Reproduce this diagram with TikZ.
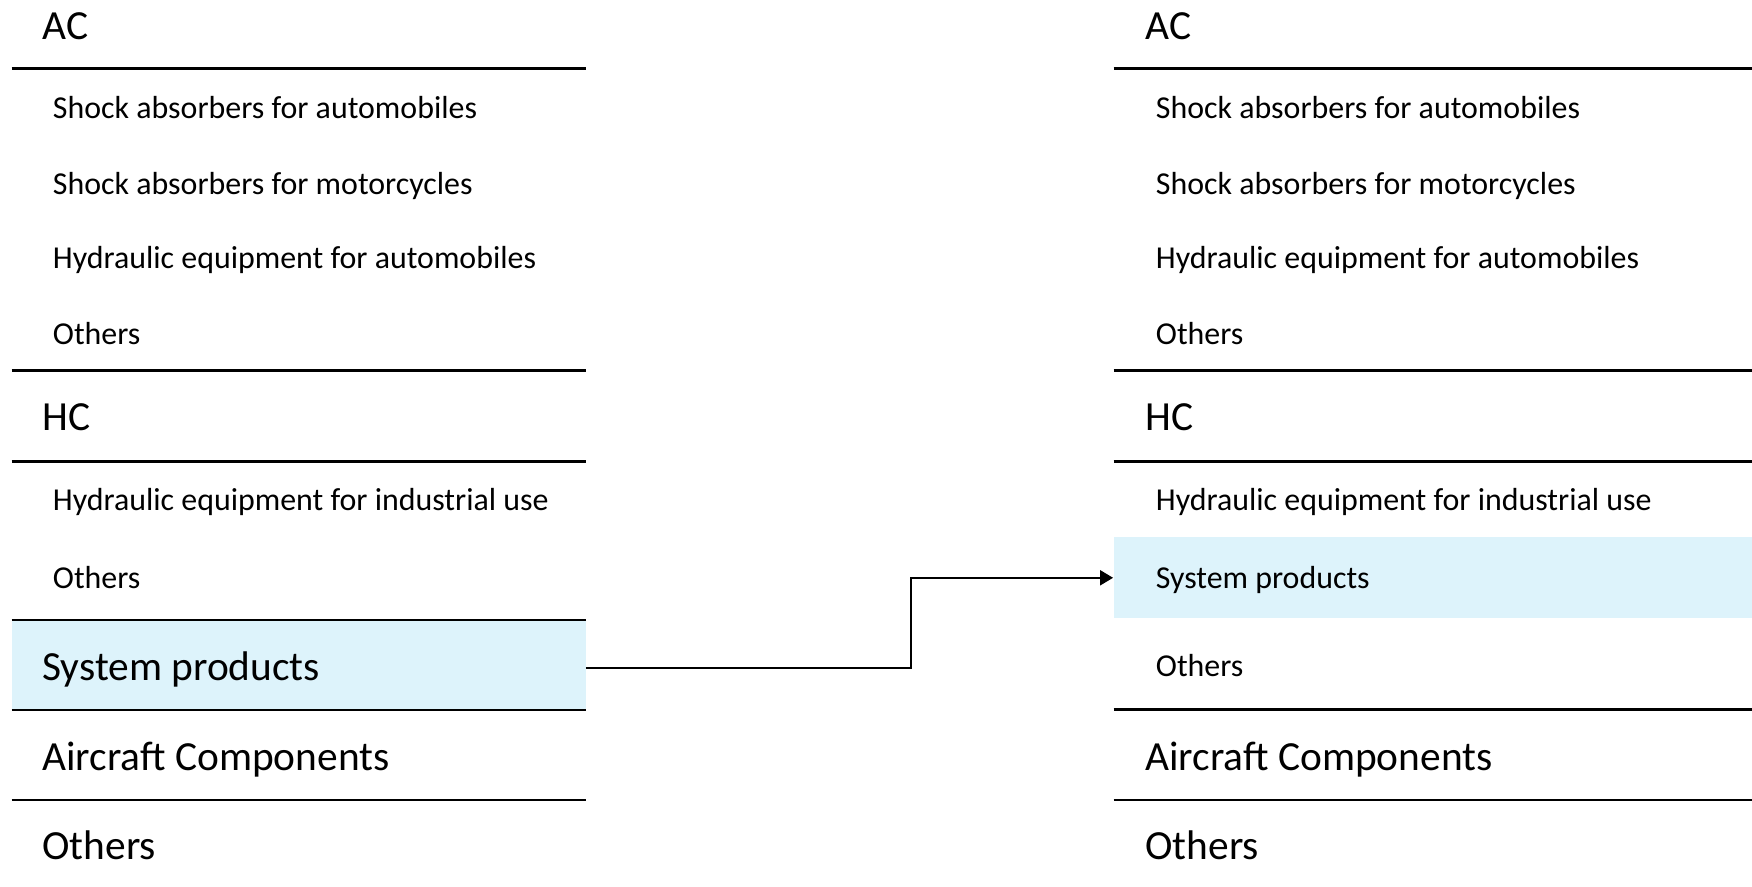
\documentclass[tikz,border=0pt]{standalone}
\usepackage{fontspec}
\setmainfont{Carlito}
\usetikzlibrary{arrows.meta}
\definecolor{sysblue}{RGB}{221,243,251}
\begin{document}
\begin{tikzpicture}[x=0.5pt,y=-0.5pt,
  big/.style={anchor=base west, inner sep=0pt, font=\fontsize{20.7pt}{25pt}\selectfont},
  small/.style={anchor=base west, inner sep=0pt, font=\fontsize{15.95pt}{19pt}\selectfont},
  rule/.style={line width=1.35pt},
  sysbox/.style={fill=sysblue, draw=none, inner sep=0pt},
  conn/.style={line width=1pt, -{Triangle[length=6.5pt,width=7.5pt]}}]
\useasboundingbox (0,0) rectangle (1752,887);

% highlighted boxes
\node[sysbox, minimum width=287pt, minimum height=45pt] (lsys) at (298.5,665) {};
\node[sysbox, minimum width=319.25pt, minimum height=40.5pt] (rsys) at (1432.75,577.8) {};

% left column rules
\foreach \yy in {68.3,370.7,461.3,620,710,800}
  \draw[rule] (11.5,\yy) -- (585.5,\yy);
% right column rules
\foreach \yy in {68.3,370.7,461.3,709.3,800}
  \draw[rule] (1113.5,\yy) -- (1752,\yy);

% left column texts
\node[big]   (lac)   at (42,39.3)   {AC};
\node[small] (la1)   at (52.5,118.3) {Shock absorbers for automobiles};
\node[small] (la2)   at (52.5,194.3) {Shock absorbers for motorcycles};
\node[small] (la3)   at (52.5,268.3) {Hydraulic equipment for automobiles};
\node[small] (la4)   at (52.5,345)   {Others};
\node[big]   (lhc)   at (42,430.7)  {HC};
\node[small] (lh1)   at (52.5,510.7) {Hydraulic equipment for industrial use};
\node[small] (lh2)   at (52.5,588.3) {Others};
\node[big]   (lsp)   at (42,680)    {System products};
\node[big]   (lair)  at (42,770.7)  {Aircraft Components};
\node[big]   (loth)  at (42,859.3)  {Others};

% right column texts
\node[big]   (rac)   at (1145,39.3)   {AC};
\node[small] (ra1)   at (1155.5,118.3) {Shock absorbers for automobiles};
\node[small] (ra2)   at (1155.5,194.3) {Shock absorbers for motorcycles};
\node[small] (ra3)   at (1155.5,268.3) {Hydraulic equipment for automobiles};
\node[small] (ra4)   at (1155.5,345)   {Others};
\node[big]   (rhc)   at (1145,430.7)  {HC};
\node[small] (rh1)   at (1155.5,510.7) {Hydraulic equipment for industrial use};
\node[small] (rsp)   at (1155.5,588.3) {System products};
\node[small] (rh2)   at (1155.5,676.7) {Others};
\node[big]   (rair)  at (1145,770.7)  {Aircraft Components};
\node[big]   (roth)  at (1145,859.3)  {Others};

% connector
\coordinate (bend) at (910.6,0);
\draw[conn] ([yshift=-1.5pt]lsys.east) -| (bend |- rsys.west) -- (rsys.west);
\end{tikzpicture}
\end{document}
